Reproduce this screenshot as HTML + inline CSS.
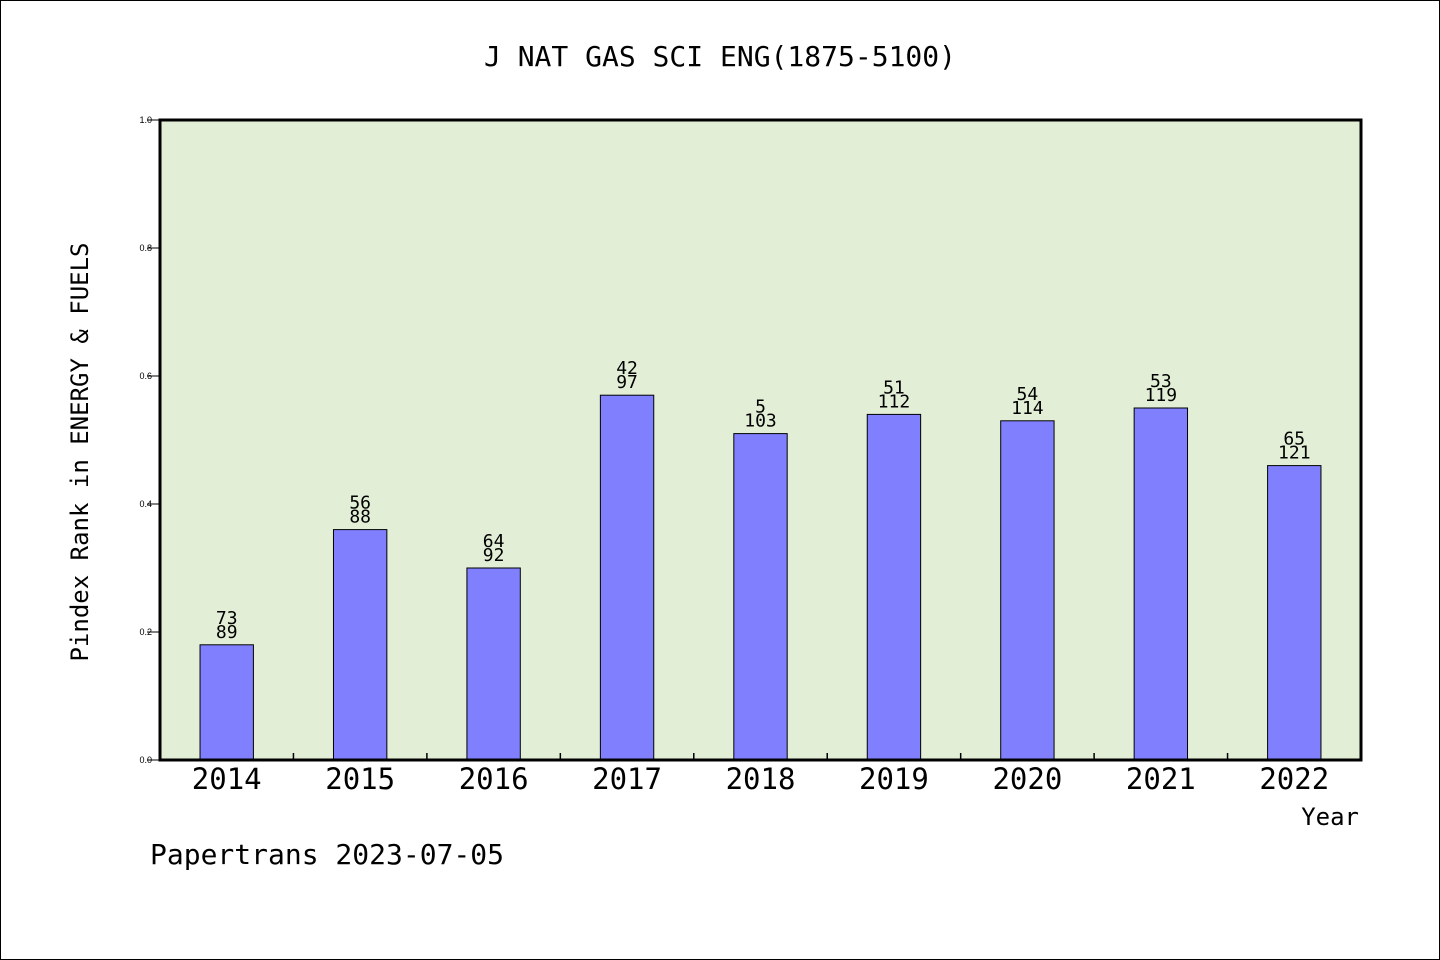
<!DOCTYPE html>
<html><head><meta charset="utf-8"><style>
html,body{margin:0;padding:0;background:#fff}
svg{display:block}
text{font-family:"DejaVu Sans Mono","WenQuanYi Zen Hei","Liberation Mono",monospace;fill:#000}
</style></head><body>
<svg id="chart" width="1440" height="960" viewBox="0 0 1440 960">
<rect x="0.5" y="0.5" width="1439" height="959" fill="#fff" stroke="#000"/>
<text x="720" y="66" text-anchor="middle" font-size="28">J NAT GAS SCI ENG(1875-5100)</text>
<rect x="160" y="120" width="1201" height="640" fill="#e2efd6"/>
<g id="bars"></g>
<g id="yticks"></g>
<g id="xticks"></g>
<rect x="160" y="120" width="1201" height="640" fill="none" stroke="#000" stroke-width="3"/>
<text transform="translate(88,452) rotate(-90)" text-anchor="middle" font-size="24">Pindex Rank in ENERGY &amp; FUELS</text>
<text x="1359" y="825" text-anchor="end" font-size="24">Year</text>
<text x="150" y="864" font-size="28">Papertrans 2023-07-05</text>
</svg>
<script>
const categories=["2014","2015","2016","2017","2018","2019","2020","2021","2022"];
const values=[0.18,0.36,0.30,0.57,0.51,0.54,0.53,0.55,0.46];
const ranks=["73","56","64","42","5","51","54","53","65"];
const totals=["89","88","92","97","103","112","114","119","121"];
const yTicks=[0,0.2,0.4,0.6,0.8,1.0];
const NS="http://www.w3.org/2000/svg";
const X0=160,X1=1361,Y0=760,Y1=120;
const band=(X1-X0)/categories.length;
const xc=i=>X0+band*(i+0.5);
const y=v=>Y0-(v-0)/(1-0)*(Y0-Y1);
function mk(tag,attrs,parent,txt){const e=document.createElementNS(NS,tag);for(const k in attrs)e.setAttribute(k,attrs[k]);if(txt!==undefined)e.textContent=txt;parent.appendChild(e);return e;}
const bars=document.getElementById('bars'),yt=document.getElementById('yticks'),xt=document.getElementById('xticks');
const bw=band*0.4;
categories.forEach((c,i)=>{
  const r=mk('rect',{x:xc(i)-bw/2,y:y(values[i]),width:bw,height:Y0-y(values[i]),fill:'#8080ff',stroke:'#000','stroke-width':1},bars);
  
  
  const t1=mk('text',{x:xc(i),y:y(values[i])-21,'text-anchor':'middle','font-size':18},bars,ranks[i]);
  
  
  const t2=mk('text',{x:xc(i),y:y(values[i])-7,'text-anchor':'middle','font-size':18},bars,totals[i]);
  
  
  const xl=mk('text',{x:xc(i),y:789,'text-anchor':'middle','font-size':29},xt,c);
  
  
  if(i>0){const tk=mk('line',{x1:X0+band*i,x2:X0+band*i,y1:Y0,y2:Y0-7,stroke:'#000','stroke-width':1.5},xt);
  
  }
});
yTicks.forEach(v=>{
  const l=mk('line',{x1:147,x2:X0,y1:y(v),y2:y(v),stroke:'#000','stroke-width':1},yt);
  
  
  const t=mk('text',{x:152,y:y(v)+3,'text-anchor':'end','font-size':9,style:'font-family:"Liberation Sans",sans-serif'},yt,v.toFixed(1));
  
  
});
</script>
</body></html>
